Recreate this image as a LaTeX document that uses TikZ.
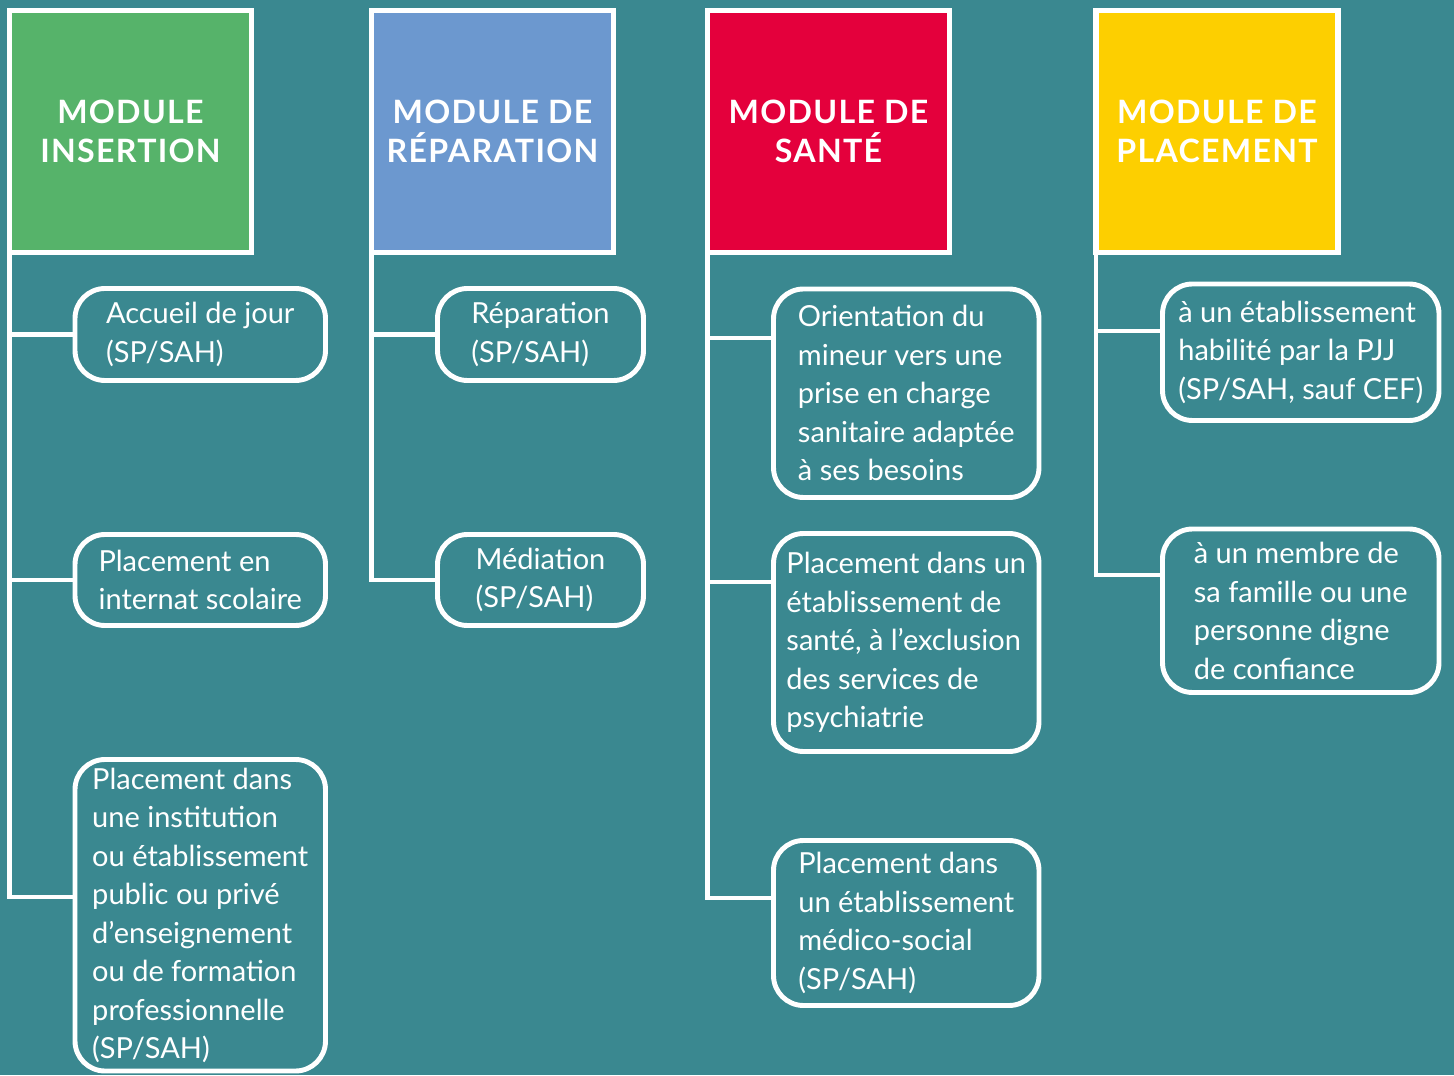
\documentclass[tikz,border=0pt]{standalone}
\usepackage{fontspec}
\setmainfont{Lato}
\newfontfamily\headfont[LetterSpace=4]{Lato}

\definecolor{tealbg}{HTML}{3A8890}
\definecolor{greenmod}{HTML}{56B36A}
\definecolor{bluemod}{HTML}{6C98CF}
\definecolor{redmod}{HTML}{E4003C}
\definecolor{yellowmod}{HTML}{FDCF00}

\tikzstyle{module}=[rectangle, draw=white, line width=3pt, outer sep=0pt,
                    minimum width=4.84cm, minimum height=4.84cm,
                    text=white, align=center,
                    font=\headfont\fontsize{18.3}{22.2}\selectfont\bfseries]
\tikzstyle{measure}=[rectangle, draw=white, line width=2.8pt, outer sep=0pt,
                     rounded corners=0.6cm, text=white, align=left,
                     font=\fontsize{16.5}{21.9}\selectfont]
\tikzstyle{link}=[white, line width=2.8pt]

\begin{document}
\begin{tikzpicture}
\fill[tealbg] (0, 0) rectangle (29.08, 21.5);

%%%%%%%%%%%%%%%%%%%%%%%%%%%%%%
% nodes

% insertion
\node (mod_ins) at (2.61, 18.87) [module, fill=greenmod] {MODULE\\INSERTION};

\node (accueil) at (4.005, 14.81) [measure, minimum width=5.01cm, minimum height=1.84cm] {Accueil de jour\\(SP/SAH)};

\node (internat) at (4.005, 9.9) [measure, minimum width=5.01cm, minimum height=1.82cm] {Placement en\\internat scolaire};

\node (institution) at (4.005, 3.195) [measure, minimum width=5.01cm, minimum height=6.23cm] {Placement dans\\une institution\\ou établissement\\public ou privé\\d’enseignement\\ou de formation\\professionnelle\\(SP/SAH)};

% reparation
\node (mod_rep) at (9.85, 18.87) [module, fill=bluemod] {MODULE DE\\RÉPARATION};

\node (reparation) at (10.81, 14.81) [measure, minimum width=4.12cm, minimum height=1.84cm] {Réparation\\(SP/SAH)};

\node (mediation) at (10.81, 9.9) [measure, minimum width=4.12cm, minimum height=1.82cm] {Médiation\\(SP/SAH)};

% sante
\node (mod_san) at (16.57, 18.87) [module, fill=redmod] {MODULE DE\\SANTÉ};

\node (orientation) at (18.125, 13.635) [measure, minimum width=5.31cm, minimum height=4.17cm] {Orientation du\\mineur vers une\\prise en charge\\sanitaire adaptée\\à ses besoins};

\node (sante) at (18.125, 8.65) [measure, minimum width=5.31cm, minimum height=4.36cm] {Placement dans un\\établissement de\\santé, à l’exclusion\\des services de\\psychiatrie};

\node (medico) at (18.125, 3.04) [measure, minimum width=5.31cm, minimum height=3.3cm] {Placement dans\\un établissement\\médico-social\\(SP/SAH)};

% placement
\node (mod_pla) at (24.34, 18.87) [module, fill=yellowmod] {MODULE DE\\PLACEMENT};

\node (etab) at (26.015, 14.455) [measure, minimum width=5.53cm, minimum height=2.73cm] {à un établissement\\habilité par la PJJ\\(SP/SAH, sauf CEF)};

\node (membre) at (26.015, 9.285) [measure, minimum width=5.53cm, minimum height=3.27cm] {à un membre de\\sa famille ou une\\personne digne\\de confiance};


%%%%%%%%%%%%%%%%%%%%%%%%%%%%%%
% links

% insertion
\draw [link] (mod_ins.south west) |- (accueil.west);
\draw [link] (mod_ins.south west) |- (internat.west);
\draw [link] (mod_ins.south west) |- ([yshift=0.365cm]institution.west);

% reparation
\draw [link] (mod_rep.south west) |- (reparation.west);
\draw [link] (mod_rep.south west) |- (mediation.west);

% sante
\draw [link] (mod_san.south west) |- ([yshift=1.105cm]orientation.west);
\draw [link] (mod_san.south west) |- ([yshift=1.21cm]sante.west);
\draw [link] (mod_san.south west) |- ([yshift=0.5cm]medico.west);

% placement
\draw [link] (mod_pla.south west) |- ([yshift=0.425cm]etab.west);
\draw [link] (mod_pla.south west) |- ([yshift=0.715cm]membre.west);

\end{tikzpicture}
\end{document}
